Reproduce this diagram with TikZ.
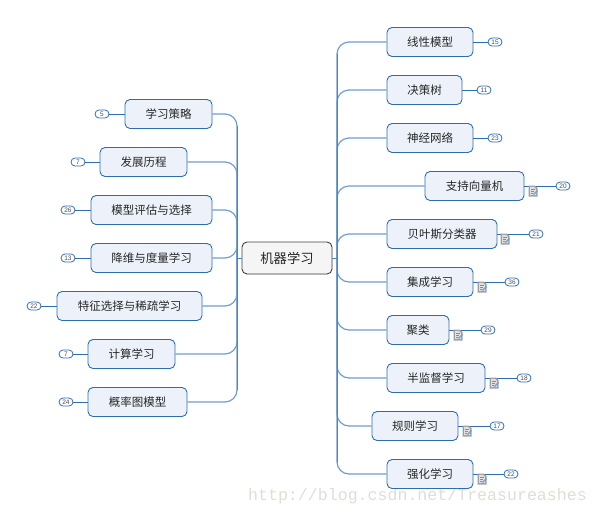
\documentclass[tikz,border=0pt]{standalone}
\usepackage{fontspec}
\setmainfont{Noto Sans CJK SC}
\newfontfamily\wmfont{Liberation Mono}
\newfontfamily\numfont{Liberation Sans}
\usetikzlibrary{shadows}
\definecolor{edgeblue}{HTML}{2F6EAE}
\definecolor{branchblue}{HTML}{6E9CCC}
\definecolor{trunkblue}{HTML}{4A86C5}
\definecolor{topicfill}{HTML}{EDF2FA}
\definecolor{wmgrey}{HTML}{DEDED6}
\tikzset{
  x=1pt,y=-1pt,
  topic/.style={draw=edgeblue,fill=topicfill,line width=0.9pt,rounded corners=5pt,minimum height=29pt,inner sep=0pt,text=black!85,font=\fontsize{11.5}{12}\selectfont},
  central/.style={draw=black!75,fill=black!4,line width=0.9pt,rounded corners=5pt,minimum height=32pt,minimum width=90pt,inner sep=0pt,text=black!85,font=\fontsize{13.3}{14}\selectfont,general shadow={yshift=-1.2pt,fill=black!45}},
  badge/.style={draw=edgeblue,fill=white,line width=0.8pt,rounded corners=4pt,minimum height=8pt,minimum width=14pt,inner sep=0pt,text=black!70,font=\numfont\fontsize{6.5}{7}\selectfont},
  branch/.style={draw=branchblue,line width=1.2pt,rounded corners=12pt},
  trunk/.style={draw=trunkblue,line width=0.9pt},
  badgeline/.style={draw=edgeblue,line width=0.9pt},
  watermark/.style={text=wmgrey,font=\wmfont\fontsize{16.6}{17}\selectfont,inner sep=0pt},
  noteicon/.pic={
    \fill[black!38] (-4.5,-5.5) -- (2,-5.5) -- (4.5,-3) -- (4.5,5.5) -- (-4.5,5.5) -- cycle;
    \fill[black!12] (-3,-4.2) -- (1,-4.2) -- (3,-2) -- (3,4) -- (-3,4) -- cycle;
    \draw[black!45,line width=0.7pt] (-2,-1.8) -- (1.5,-1.8) (-2,0.2) -- (0.5,0.2) (-2,2.2) -- (-0.5,2.2);
    \draw[trunkblue!80,line width=1.2pt] (0.5,3.5) -- (4.5,-0.5);
  }
}
\begin{document}
\begin{tikzpicture}
\useasboundingbox (0,0) rectangle (598,515);
\node[watermark] (wm) at (417.5,496) {http://blog.csdn.net/Treasureashes};

\coordinate (tl) at (237,258);
\coordinate (tr) at (337,258);
\node[central] (c) at (287,258) {机器学习};

% left topics
\node[topic,minimum width=87pt]  (l1) at (168.5,114) {学习策略};
\node[topic,minimum width=87pt]  (l2) at (143.5,162) {发展历程};
\node[topic,minimum width=121pt] (l3) at (151.5,210) {模型评估与选择};
\node[topic,minimum width=121pt] (l4) at (151.5,258) {降维与度量学习};
\node[topic,minimum width=145pt] (l5) at (129.5,306) {特征选择与稀疏学习};
\node[topic,minimum width=87pt]  (l6) at (131.5,354) {计算学习};
\node[topic,minimum width=99pt]  (l7) at (137.5,402) {概率图模型};

% right topics
\node[topic,minimum width=86pt]  (r1) at (430,42)  {线性模型};
\node[topic,minimum width=75pt]  (r2) at (424.5,90) {决策树};
\node[topic,minimum width=86pt]  (r3) at (430,138) {神经网络};
\node[topic,minimum width=99pt]  (r4) at (474.5,186) {支持向量机};
\node[topic,minimum width=110pt] (r5) at (442,234) {贝叶斯分类器};
\node[topic,minimum width=86pt]  (r6) at (430,282) {集成学习};
\node[topic,minimum width=62pt]  (r7) at (418,330) {聚类};
\node[topic,minimum width=98pt]  (r8) at (436,378) {半监督学习};
\node[topic,minimum width=86pt]  (r9) at (415,426) {规则学习};
\node[topic,minimum width=86pt]  (r10) at (430,474) {强化学习};

% badges
\node[badge] (bl1) at (102,114) {5};
\node[badge] (bl2) at (78,162) {7};
\node[badge] (bl3) at (68,210) {26};
\node[badge] (bl4) at (68,258) {13};
\node[badge] (bl5) at (34,306) {22};
\node[badge] (bl6) at (66,354) {7};
\node[badge] (bl7) at (66,402) {24};
\node[badge] (br1) at (495,42) {15};
\node[badge] (br2) at (484,90) {11};
\node[badge] (br3) at (495,138) {23};
\node[badge] (br4) at (563,186) {20};
\node[badge] (br5) at (536,234) {21};
\node[badge] (br6) at (512,282) {36};
\node[badge] (br7) at (488,330) {29};
\node[badge] (br8) at (524,378) {18};
\node[badge] (br9) at (497,426) {17};
\node[badge] (br10) at (511,474) {22};

% connectors
\foreach \n in {1,...,7} \draw[branch] (l\n.east) -| (tl);
\foreach \n in {1,...,10} \draw[branch] (r\n.west) -| (tr);
\foreach \n in {1,...,7} \draw[badgeline] (l\n.west) -- (bl\n.east);
\foreach \n in {1,...,10} \draw[badgeline] (r\n.east) -- (br\n.west);
\draw[trunk] ([yshift=-12pt]l1.east -| tl) -- ([yshift=12pt]l7.east -| tl);
\draw[trunk] ([yshift=-12pt]r1.west -| tr) -- ([yshift=12pt]r10.west -| tr);
\draw[trunk] (c.west) -- (tl);
\draw[trunk] (c.east) -- (tr);

\pic at (533,191) {noteicon};
\pic at (505,239) {noteicon};
\pic at (482,287) {noteicon};
\pic at (458,335) {noteicon};
\pic at (494,383) {noteicon};
\pic at (467,431) {noteicon};
\pic at (482,479) {noteicon};
\end{tikzpicture}
\end{document}
